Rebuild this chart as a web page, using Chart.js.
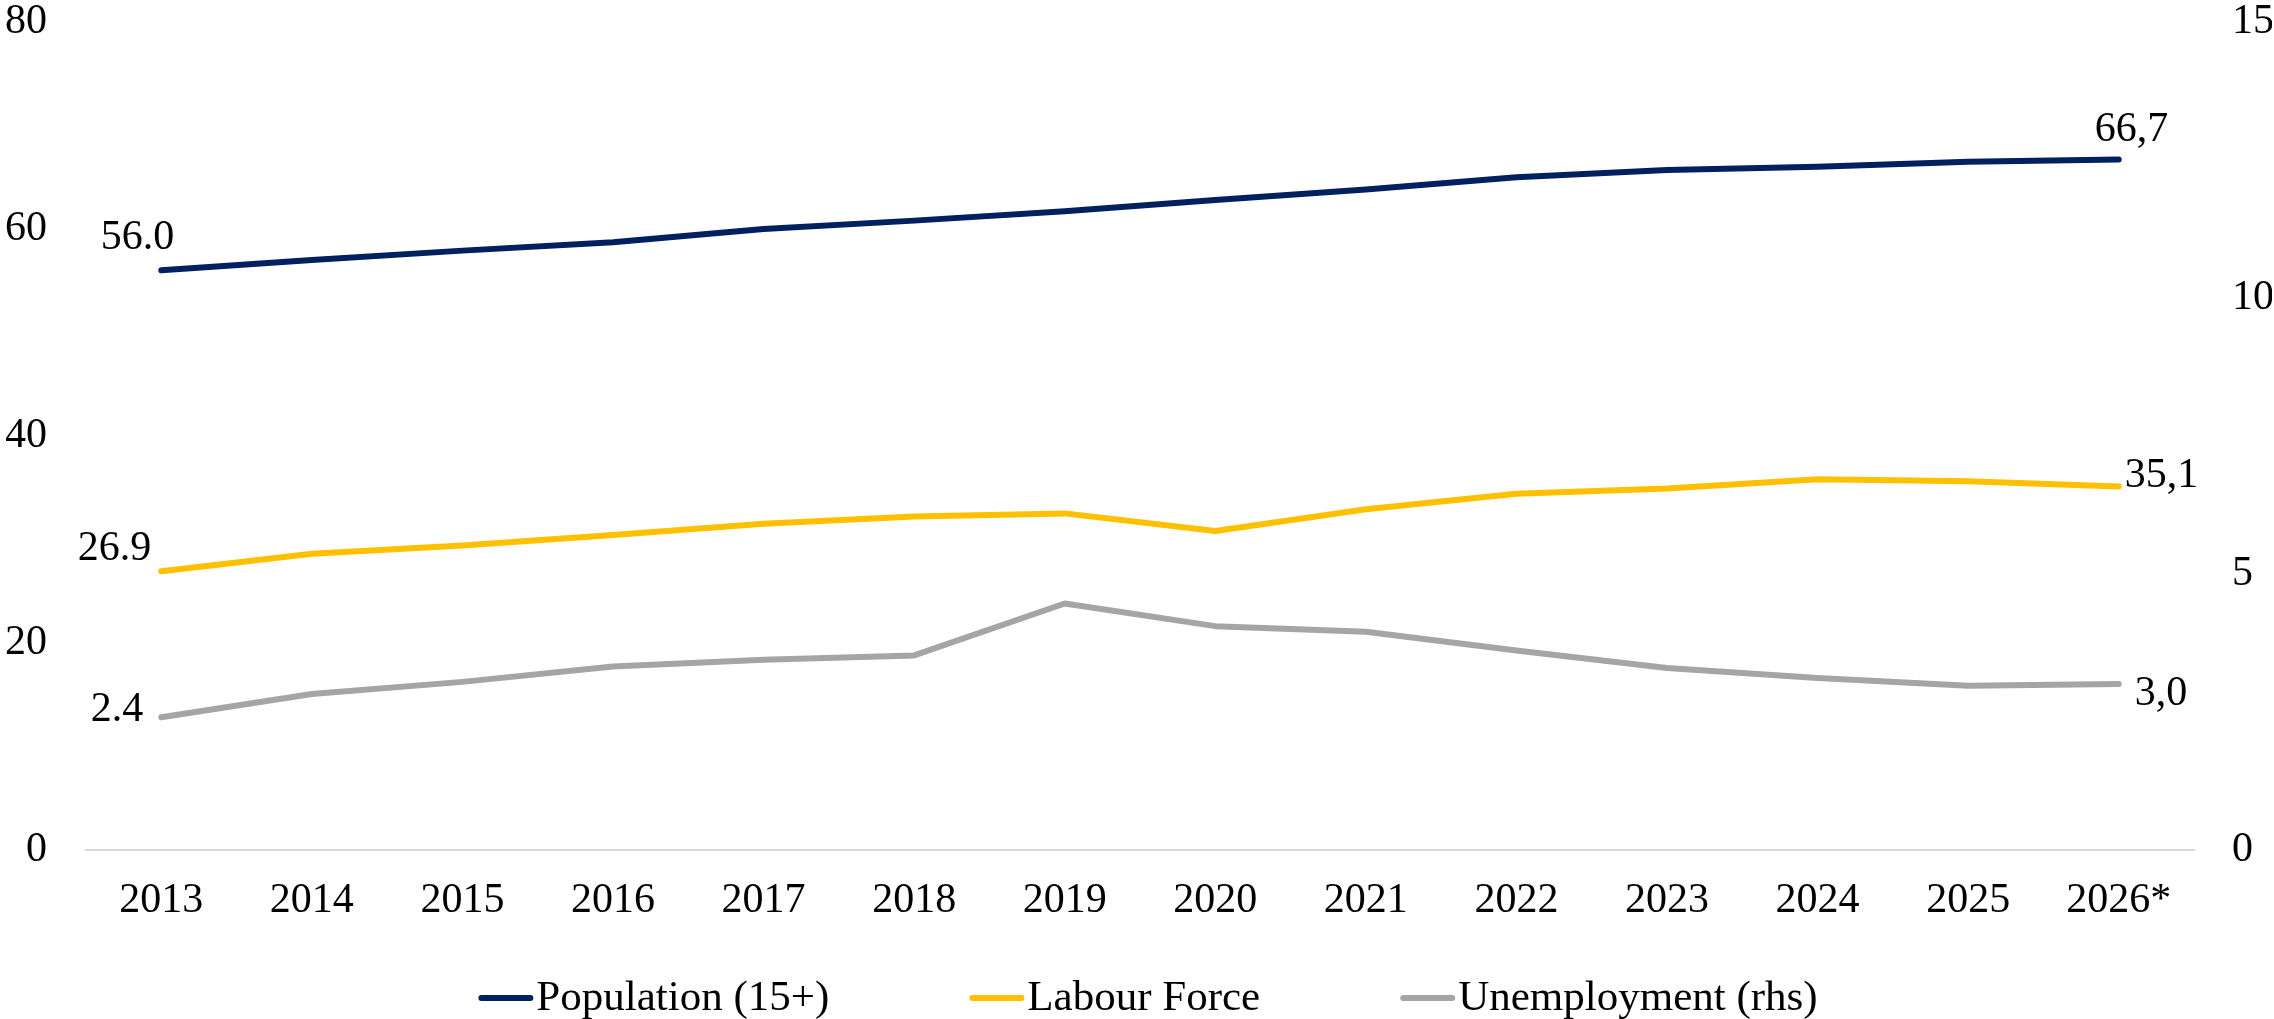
<!DOCTYPE html>
<html>
<head>
<meta charset="utf-8">
<script src="https://cdn.jsdelivr.net/npm/chart.js@4/dist/chart.umd.min.js"></script>
<style>
    html, body { margin: 0; padding: 0; background: #fff; }
    #wrap { width: 2274px; height: 1019px; }
</style>
</head>
<body>
<div id="wrap"><canvas id="chart"></canvas></div>
<script>
// years on the x axis
var years = ["2013", "2014", "2015", "2016", "2017", "2018", "2019", "2020", "2021", "2022", "2023", "2024", "2025", "2026*"];

// millions, left axis
var population = [56.0, 57.0, 57.9, 58.7, 60.0, 60.8, 61.7, 62.8, 63.8, 65.0, 65.7, 66.0, 66.5, 66.7];
var labourForce = [26.9, 28.6, 29.4, 30.4, 31.5, 32.2, 32.5, 30.8, 32.9, 34.4, 34.9, 35.8, 35.6, 35.1];

// %, right axis
var unemployment = [2.4, 2.82, 3.04, 3.32, 3.44, 3.52, 4.46, 4.05, 3.95, 3.61, 3.29, 3.11, 2.97, 3.0];

var seriesNames = ["Population (15+)", "Labour Force", "Unemployment (rhs)"];

var leftTicks = [0, 20, 40, 60, 80];
var rightTicks = [0, 5, 10, 15];

var colors = ["#002060", "#FFC000", "#A5A5A5"];

var fontFamily = "'Liberation Serif', 'Times New Roman', serif";
var fontSize = 42;
var legendFontSize = 43;

// offsets of the first / last value labels, [dx, dy, align]
var labelOffsets = [
    { first: [13, -32, "right"], last: [-24, -30, "left"] },
    { first: [-10, -22, "right"], last: [6, -11, "left"] },
    { first: [-18, -7, "right"], last: [16, 10, "left"] }
];

function createData(label, data, color, axis)
{
    return {
        label: label,
        data: data,
        yAxisID: axis,
        borderColor: color,
        backgroundColor: color,
        borderWidth: 6,
        borderCapStyle: "round",
        borderJoinStyle: "round",
        pointRadius: 0,
        pointHoverRadius: 0,
        tension: 0,
        fill: false
    };
}

// fix the axis sizes so the plot area sits where it does in the source
function fixAxis(width) {
    return function(axis) {
        if (width) axis.width = width;
        axis.paddingTop = 0;
        axis.paddingBottom = 0;
        axis.paddingLeft = 0;
        axis.paddingRight = 0;
    };
}

// first value with a dot, last one with a comma, as in the source
var endLabels = {
    id: "endLabels",
    afterDatasetsDraw: function(chart) {
        var ctx = chart.ctx;
        ctx.save();
        ctx.font = fontSize + "px " + fontFamily;
        ctx.fillStyle = "#000";
        ctx.textBaseline = "middle";
        chart.data.datasets.forEach(function(ds, i) {
            var meta = chart.getDatasetMeta(i);
            var n = ds.data.length;
            var p0 = meta.data[0];
            var p1 = meta.data[n - 1];
            var o = labelOffsets[i];
            ctx.textAlign = o.first[2];
            ctx.fillText(ds.data[0].toFixed(1), p0.x + o.first[0], p0.y + o.first[1]);
            ctx.textAlign = o.last[2];
            ctx.fillText(ds.data[n - 1].toFixed(1).replace(".", ","), p1.x + o.last[0], p1.y + o.last[1]);
        });
        ctx.restore();
    }
};

// legend with a short line and the text right next to it
var lineLegend = {
    id: "lineLegend",
    afterDraw: function(chart) {
        var ctx = chart.ctx;
        var lineW = 55, gap = 3, spacing = 140;
        ctx.save();
        ctx.font = legendFontSize + "px " + fontFamily;
        var widths = chart.data.datasets.map(function(ds) { return ctx.measureText(ds.label).width; });
        var total = 0;
        widths.forEach(function(w) { total += lineW + gap + w; });
        total += spacing * (widths.length - 1);
        var x = (chart.chartArea.left + chart.chartArea.right) / 2 + 8 - total / 2;
        var y = chart.height - 21;
        ctx.textBaseline = "middle";
        ctx.textAlign = "left";
        chart.data.datasets.forEach(function(ds, i) {
            ctx.strokeStyle = ds.borderColor;
            ctx.lineWidth = 6;
            ctx.lineCap = "round";
            ctx.beginPath();
            ctx.moveTo(x + 3, y);
            ctx.lineTo(x + lineW - 3, y);
            ctx.stroke();
            ctx.fillStyle = "#000";
            ctx.fillText(ds.label, x + lineW + gap, y + 1);
            x += lineW + gap + widths[i] + spacing;
        });
        ctx.restore();
    }
};

Chart.defaults.font.family = fontFamily;
Chart.defaults.font.size = fontSize;
Chart.defaults.color = "#000";

var chart = new Chart(document.getElementById("chart"), {
    type: "line",
    data: {
        labels: years,
        datasets: [
            createData(seriesNames[0], population, colors[0], "y"),
            createData(seriesNames[1], labourForce, colors[1], "y"),
            createData(seriesNames[2], unemployment, colors[2], "y1")
        ]
    },
    options: {
        responsive: true,
        maintainAspectRatio: false,
        animation: false,
        layout: {
            padding: { left: 6, right: 2, top: 22, bottom: 67 }
        },
        plugins: {
            legend: { display: false },
            tooltip: { enabled: false }
        },
        scales: {
            x: {
                offset: true,
                grid: { display: false, drawTicks: false },
                border: { display: true, color: "#D9D9D9", width: 2 },
                ticks: { padding: 26, autoSkip: false, maxRotation: 0 },
                afterFit: fixAxis(0)
            },
            y: {
                position: "left",
                min: leftTicks[0],
                max: leftTicks[leftTicks.length - 1],
                afterBuildTicks: function(axis) {
                    axis.ticks = leftTicks.map(function(v) { return { value: v }; });
                },
                grid: { display: false, drawTicks: false },
                border: { display: false },
                ticks: { padding: 39 },
                afterFit: fixAxis(80)
            },
            y1: {
                position: "right",
                min: rightTicks[0],
                max: rightTicks[rightTicks.length - 1],
                afterBuildTicks: function(axis) {
                    axis.ticks = rightTicks.map(function(v) { return { value: v }; });
                },
                grid: { display: false, drawTicks: false },
                border: { display: false },
                ticks: { padding: 38 },
                afterFit: fixAxis(78)
            }
        }
    },
    plugins: [endLabels, lineLegend]
});
</script>
</body>
</html>
